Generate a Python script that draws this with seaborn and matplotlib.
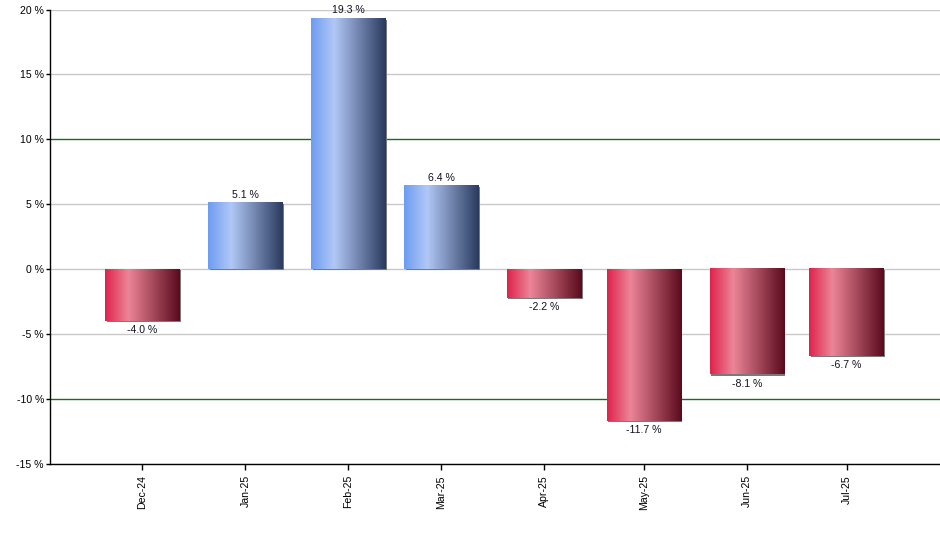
import numpy as np
import pandas as pd
import matplotlib
matplotlib.use("Agg")
import matplotlib.pyplot as plt
import matplotlib.dates as mdates
import matplotlib.transforms as mtransforms
from matplotlib.colors import LinearSegmentedColormap
import seaborn as sns

# monthly returns, one bar per month
months = ["2024-12-01", "2025-01-01", "2025-02-01", "2025-03-01",
          "2025-04-01", "2025-05-01", "2025-06-01", "2025-07-01"]
month_labels = ["Dec-24", "Jan-25", "Feb-25", "Mar-25",
                "Apr-25", "May-25", "Jun-25", "Jul-25"]
returns = [-4.0, 5.1, 19.3, 6.4, -2.2, -11.7, -8.1, -6.7]
y_ticks = [-15, -10, -5, 0, 5, 10, 15, 20]
y_labels = ["-15 %", "-10 %", "-5 %", "0 %", "5 %", "10 %", "15 %", "20 %"]

df = pd.DataFrame({
    "month": mdates.date2num(pd.to_datetime(months).to_numpy()),
    "ret": returns,
})

sns.set_style("white")
plt.rcParams["font.family"] = ["Liberation Sans", "DejaVu Sans"]
plt.rcParams["font.size"] = 7.6

fig = plt.figure(figsize=(9.4, 5.5), dpi=100)
ax = fig.add_axes([49.5 / 940, 1 - 464 / 550, 890 / 940, 454.5 / 550])

# bar width ~22.3 days, seaborn scales width by the smallest gap between months
min_gap = np.min(np.diff(df["month"]))
sns.barplot(data=df, x="month", y="ret", native_scale=True, errorbar=None,
            width=22.3 / min_gap, color="white", edgecolor="none", ax=ax, zorder=3)

blue_cmap = LinearSegmentedColormap.from_list(
    "blue", [(0, "#6d9cf0"), (0.31, "#b1c8f6"), (1, "#2a3a5e")])
red_cmap = LinearSegmentedColormap.from_list(
    "red", [(0, "#e0224c"), (0.31, "#ec8597"), (1, "#5a0a1c")])
grad = np.linspace(0, 1, 256).reshape(1, -1)

shadow_tr = mtransforms.offset_copy(ax.transData, fig=fig, x=1.2, y=-1.2, units="dots")

for patch in ax.patches[:]:
    x0, y0 = patch.get_x(), patch.get_y()
    w, h = patch.get_width(), patch.get_height()
    lo, hi = min(y0, y0 + h), max(y0, y0 + h)
    cmap = blue_cmap if h >= 0 else red_cmap
    shadow = plt.Rectangle((x0, lo), w, hi - lo, facecolor="#7a7a7a",
                           edgecolor="none", transform=shadow_tr, zorder=2.5)
    ax.add_patch(shadow)
    ax.imshow(grad, cmap=cmap, extent=[x0, x0 + w, lo, hi], aspect="auto",
              interpolation="bilinear", zorder=3.5)
    patch.set_visible(False)

for x, v in zip(df["month"], df["ret"]):
    if v >= 0:
        ax.annotate(f"{v:.1f} %", (x, v), xytext=(0, 2.5), textcoords="offset points",
                    ha="center", va="bottom", color="#111122", zorder=5)
    else:
        ax.annotate(f"{v:.1f} %", (x, v), xytext=(0, -3), textcoords="offset points",
                    ha="center", va="top", color="#111122", zorder=5)

for t in y_ticks:
    col = "#1c6b1c" if abs(t) == 10 else "#c8c8c8"
    ax.axhline(t, color=col, lw=1, zorder=1)

ax.set_xlim(df["month"].iloc[0] - 28, df["month"].iloc[-1] + 28)
ax.set_ylim(-15, 20)
ax.set_xticks(df["month"])
ax.set_xticklabels(month_labels, rotation=90)
ax.set_yticks(y_ticks)
ax.set_yticklabels(y_labels)
ax.set_xlabel("")
ax.set_ylabel("")

for side in ["top", "right"]:
    ax.spines[side].set_visible(False)
for side in ["left", "bottom"]:
    ax.spines[side].set_color("black")
    ax.spines[side].set_linewidth(1)
    ax.spines[side].set_zorder(6)

ax.tick_params(axis="x", length=4, width=1, pad=4, colors="black", bottom=True)
ax.tick_params(axis="y", length=3, width=1, pad=1, colors="black", left=True)

fig.savefig("out.png", dpi=100)
